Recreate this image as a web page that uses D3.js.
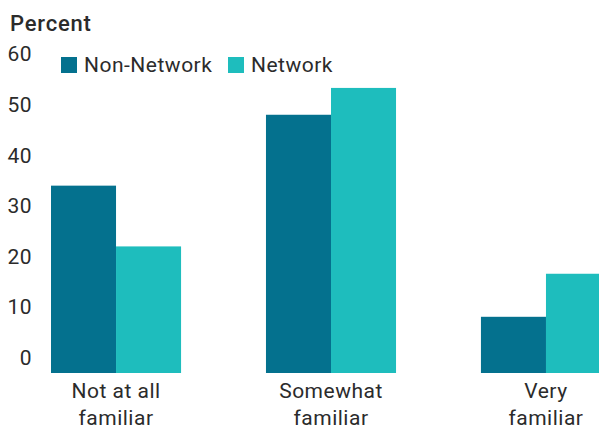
<!DOCTYPE html>
<html>
<head>
<meta charset="utf-8">
<script src="https://cdn.jsdelivr.net/npm/d3@7"></script>
<style>
  body { margin: 0; background: #fff; }
  text { font-family: Roboto, "DejaVu Sans", sans-serif; fill: #2b2b2b; letter-spacing: 0.5px; }
</style>
</head>
<body>
<svg class="chart" width="599" height="427"></svg>
<script>
var categories = [['Not at all', 'familiar'], ['Somewhat', 'familiar'], ['Very', 'familiar']]
var seriesNames = ['Non-Network', 'Network']
var nonNetwork = [34, 48, 8.1]
var network = [22, 53.3, 16.6]
var yTicks = [0, 10, 20, 30, 40, 50, 60]
var colors = ['#04718e', '#1ebdbd']

var width = 599, height = 427
var svg = d3.select('.chart')

var keys = categories.map(function (c) { return c.join(' ') })
var rows = keys.map(function (k, i) { return { key: k, values: [nonNetwork[i], network[i]] } })

// axis floor sits a bit under zero, like the original
var y = d3.scaleLinear().domain([-3, 60]).range([373, 54])
var x0 = d3.scaleBand().domain(keys).range([51, 611]).paddingInner(0.395).paddingOuter(0)
var x1 = d3.scaleBand().domain(seriesNames).range([0, x0.bandwidth()])

var groups = svg.append('g').selectAll('g')
    .data(rows)
    .join('g')
    .attr('transform', function (d) { return 'translate(' + x0(d.key) + ',0)' })

groups.selectAll('rect')
    .data(function (d) { return d.values.map(function (v, i) { return { name: seriesNames[i], v: v, i: i } }) })
    .join('rect')
    .attr('x', function (d) { return x1(d.name) })
    .attr('width', x1.bandwidth())
    .attr('y', function (d) { return y(d.v) })
    .attr('height', function (d) { return y(-3) - y(d.v) })
    .attr('fill', function (d) { return colors[d.i] })

// y tick labels, no lines
var yAxis = svg.append('g')
    .attr('transform', 'translate(32,0)')
    .call(d3.axisLeft(y).tickValues(yTicks).tickSize(0).tickPadding(0))
yAxis.select('.domain').remove()
yAxis.selectAll('text')
    .style('font-size', '21px')
    .attr('fill', '#2b2b2b')
    .style('font-family', 'Roboto, "DejaVu Sans", sans-serif')

// category labels, two lines each
var labels = svg.append('g').selectAll('text')
    .data(categories)
    .join('text')
    .attr('x', function (d, i) { return x0(keys[i]) + x0.bandwidth() / 2 })
    .attr('y', 398)
    .attr('text-anchor', 'middle')
    .style('font-size', '21px')
labels.selectAll('tspan')
    .data(function (d) { return d })
    .join('tspan')
    .attr('x', function () { return this.parentNode.getAttribute('x') })
    .attr('dy', function (d, i) { return i ? 27 : 0 })
    .text(function (d) { return d })

// title
svg.append('text')
    .attr('x', 10)
    .attr('y', 31)
    .style('font-size', '22px')
    .style('font-weight', 500)
    .style('letter-spacing', '0.8px')
    .text('Percent')

// legend
var legendX = [61, 228]
var legend = svg.append('g').selectAll('g')
    .data(seriesNames)
    .join('g')
    .attr('transform', function (d, i) { return 'translate(' + legendX[i] + ',57)' })
legend.append('rect')
    .attr('width', 16)
    .attr('height', 16)
    .attr('fill', function (d, i) { return colors[i] })
legend.append('text')
    .attr('x', 23)
    .attr('y', 15)
    .style('font-size', '21px')
    .text(function (d) { return d })
</script>
</body>
</html>
